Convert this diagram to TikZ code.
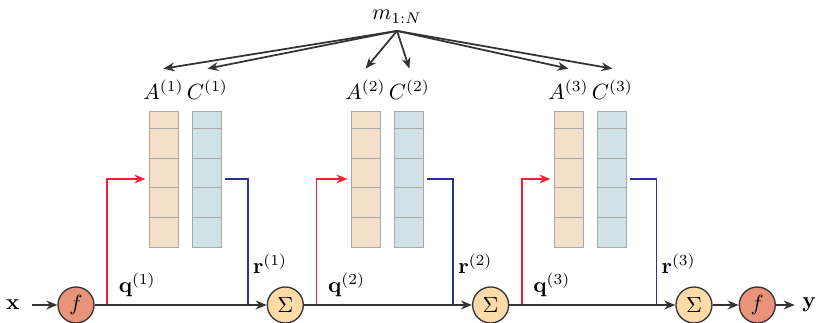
\documentclass[tikz,border=0pt]{standalone}
\usepackage{tikz}
\usepackage{xcolor}
\usetikzlibrary{arrows.meta,positioning,calc}
\definecolor{MemSalmon}{HTML}{E8937A}
\definecolor{MemPeach}{HTML}{FDDBA8}
\definecolor{MemInput}{HTML}{F3DFCA}
\definecolor{MemOutput}{HTML}{D0E1E8}
\definecolor{MemRed}{HTML}{EE2233}
\definecolor{MemBlue}{HTML}{2E3192}
\definecolor{MemDark}{HTML}{333333}
\definecolor{MemGray}{HTML}{A8A8A8}
\tikzset{
    % Circles on the main line
    func node/.style={
        circle,
        draw=MemDark,
        semithick,
        fill=MemSalmon,
        minimum size=0.576cm,
        inner sep=0pt
    },
    sum node/.style={
        func node,
        fill=MemPeach
    },
    % Memory columns
    memory in/.style={
        rectangle,
        draw=MemGray,
        fill=MemInput,
        minimum width=0.464cm,
        minimum height=2.176cm,
        inner sep=0pt
    },
    memory out/.style={
        memory in,
        fill=MemOutput
    },
    cell line/.style={
        draw=MemGray,
        thin
    },
    flow/.style={
        -{Stealth[length=5pt,width=4pt]},
        line width=1pt,
        color=MemDark
    },
    flow thin/.style={
        flow,
        thick
    },
    query line/.style={
        -{Stealth[length=5pt,width=4pt]},
        thick,
        color=MemRed,
        shorten >=0.05cm
    },
    read line/.style={
        thick,
        color=MemBlue,
        shorten <=0.05cm
    }
}

\begin{document}
\begin{tikzpicture}
        \useasboundingbox (0,0) rectangle (13.072,5.168);

        % Main line
        \node[func node] (f1) at (1.216,0.288) {$f$};
        \node[left=0.48cm of f1] (xin) {$\mathbf{x}$};
        \node[sum node, right=2.752cm of f1] (s1) {$\Sigma$};
        \node[sum node, right=2.688cm of s1] (s2) {$\Sigma$};
        \node[sum node, right=2.656cm of s2] (s3) {$\Sigma$};
        \node[func node, right=0.416cm of s3] (f2) {$f$};
        \node[right=0.3cm of f2] (yout) {$\mathbf{y}$};

        % Memory columns
        \node[memory in] (mA1) at ($(f1)+(1.4,2.016)$) {};
        \node[memory out, right=0.224cm of mA1] (mC1) {};
        \node[memory in] (mA2) at ($(mA1)+(3.232,0)$) {};
        \node[memory out, right=0.224cm of mA2] (mC2) {};
        \node[memory in] (mA3) at ($(mA2)+(3.248,0)$) {};
        \node[memory out, right=0.224cm of mA3] (mC3) {};
        \foreach \col in {mA1,mC1,mA2,mC2,mA3,mC3}
            \foreach \d in {0.288,0.76,1.232,1.704}
                \draw[cell line] ([yshift=-\d cm]\col.north west) -- ([yshift=-\d cm]\col.north east);

        % Column labels
        \node[above=0.06cm of mA1] (lA1) {$A^{(1)}$};
        \node[above=0.06cm of mC1] (lC1) {$C^{(1)}$};
        \node[above=0.06cm of mA2] (lA2) {$A^{(2)}$};
        \node[above=0.06cm of mC2] (lC2) {$C^{(2)}$};
        \node[above=0.06cm of mA3] (lA3) {$A^{(3)}$};
        \node[above=0.06cm of mC3] (lC3) {$C^{(3)}$};

        % Memory input
        \node[anchor=base] (m) at (6.352,4.85) {$m_{1:N}$};
        \foreach \lbl in {lA1,lC1,lA2,lC2,lA3,lC3}
            \draw[flow thin] (m.south) -- ([yshift=0.05cm]\lbl.north);

        % Query and read taps
        \coordinate (q1) at ($(f1)+(0.5,0)$);
        \coordinate (q2) at ($(s1)+(0.5,0)$);
        \coordinate (q3) at ($(s2)+(0.5,0)$);
        \coordinate (r1) at ($(s1)+(-0.6,0)$);
        \coordinate (r2) at ($(s2)+(-0.6,0)$);
        \coordinate (r3) at ($(s3)+(-0.6,0)$);
        \draw[query line] (q1) |- (mA1.west);
        \draw[query line] (q2) |- (mA2.west);
        \draw[query line] (q3) |- (mA3.west);
        \draw[read line] (mC1.east) -| (r1);
        \draw[read line] (mC2.east) -| (r2);
        \draw[read line] (mC3.east) -| (r3);
        \node[above right=0cm and 0.06cm of q1] (ql1) {$\mathbf{q}^{(1)}$};
        \node[above right=0cm and 0.06cm of q2] (ql2) {$\mathbf{q}^{(2)}$};
        \node[above right=0cm and 0.06cm of q3] (ql3) {$\mathbf{q}^{(3)}$};
        \node[above right=0.38cm and -0.04cm of r1] (rl1) {$\mathbf{r}^{(1)}$};
        \node[above right=0.38cm and -0.04cm of r2] (rl2) {$\mathbf{r}^{(2)}$};
        \node[above right=0.38cm and -0.04cm of r3] (rl3) {$\mathbf{r}^{(3)}$};

        % Main flow
        \draw[flow thin, shorten <=0.08cm] (xin) -- (f1);
        \draw[flow] (f1) -- (s1);
        \draw[flow] (s1) -- (s2);
        \draw[flow] (s2) -- (s3);
        \draw[flow thin] (s3) -- (f2);
        \draw[flow thin] (f2) -- (yout);
    \end{tikzpicture}
\end{document}
